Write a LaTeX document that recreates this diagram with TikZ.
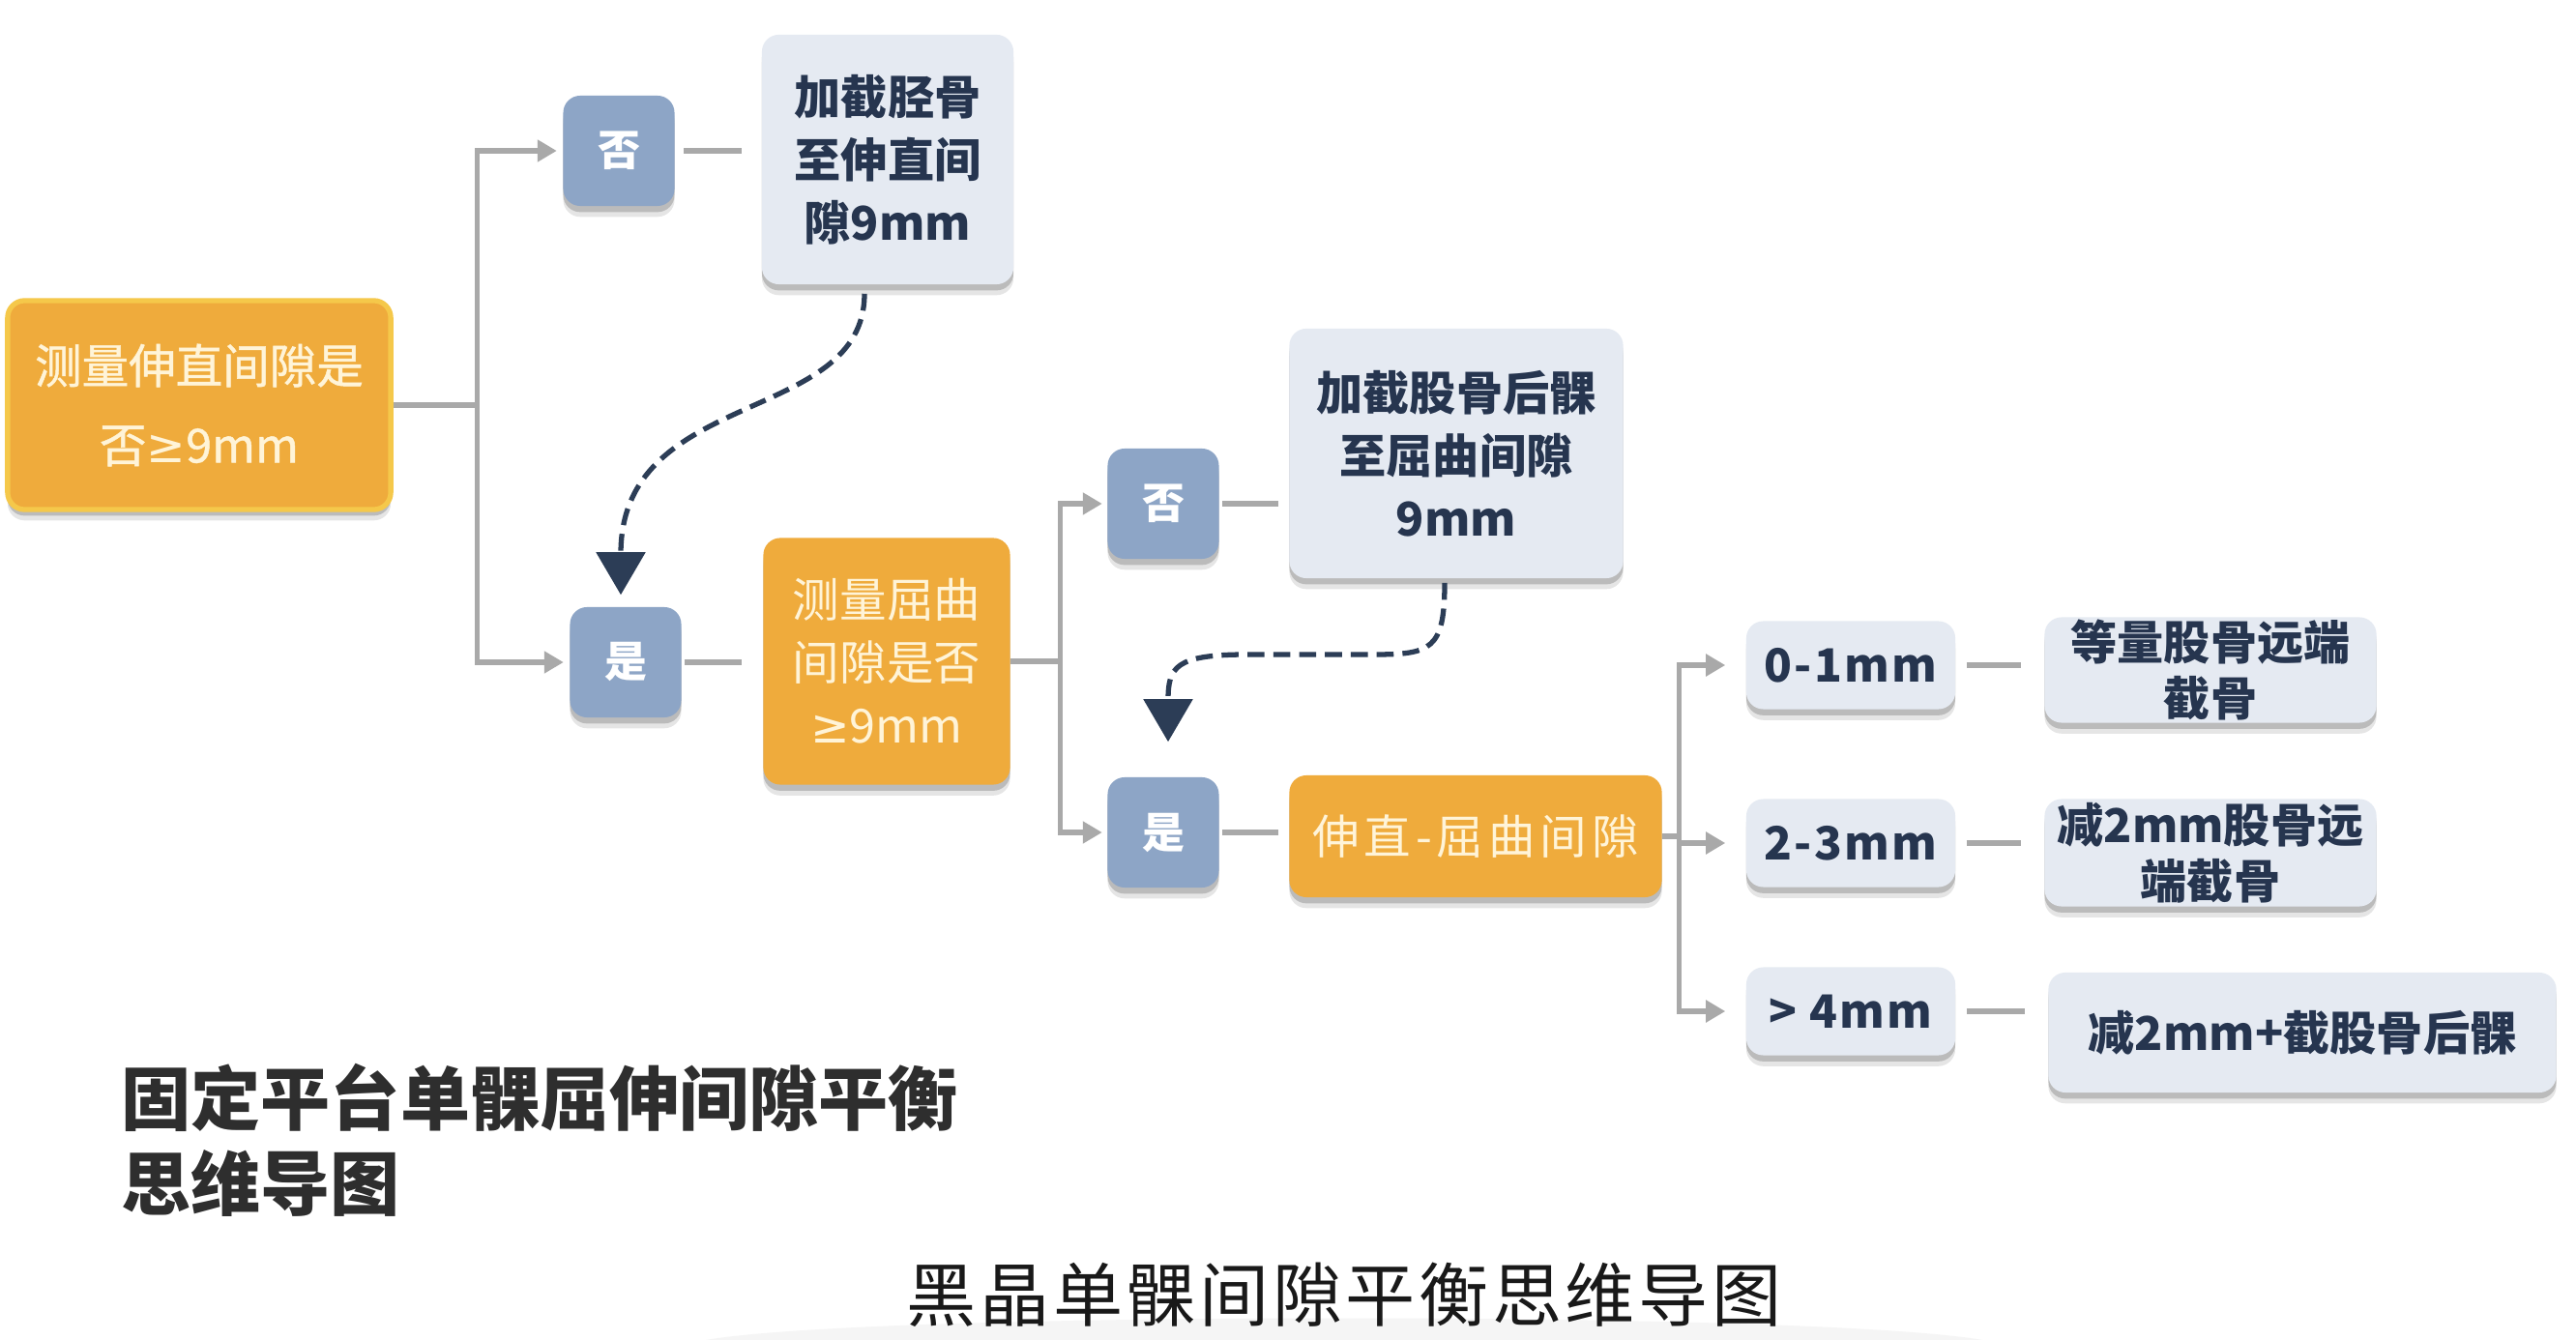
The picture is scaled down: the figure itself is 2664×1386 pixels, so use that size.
\documentclass[tikz,border=0pt]{standalone}
\usepackage{fontspec}
\setmainfont{Noto Sans CJK SC}
\newfontfamily\symf{DejaVu Sans}
\usetikzlibrary{arrows.meta,shadows}
\definecolor{orng}{HTML}{EFAB3C}
\definecolor{orngb}{HTML}{F5C84A}
\definecolor{bluebox}{HTML}{8DA5C6}
\definecolor{lightbox}{HTML}{E5EAF2}
\definecolor{navy}{HTML}{26354F}
\definecolor{connc}{HTML}{A9A9A9}
\definecolor{dashc}{HTML}{2C3D56}
\definecolor{cream}{HTML}{FFF4D8}
\newcommand{\geqs}{{\symf ≥}}
\begin{document}
\begin{tikzpicture}[x=0.01cm,y=-0.01cm,
  boxbase/.style={rectangle, rounded corners=5pt, inner sep=0pt, align=center,
    drop shadow={shadow xshift=0pt, shadow yshift=-3.2pt, opacity=0.10, fill=black},
    drop shadow={shadow xshift=0pt, shadow yshift=-1.8pt, opacity=0.18, fill=black}},
  orangebox/.style={boxbase, fill=orng, text=cream},
  bluebx/.style={boxbase, fill=bluebox, text=white, minimum width=1.15cm, minimum height=1.14cm,
    font=\bfseries\fontsize{12.5}{15}\selectfont},
  lightbx/.style={boxbase, fill=lightbox, text=navy, font=\bfseries\fontsize{13.7}{18.5}\selectfont},
  gapbx/.style={lightbx, minimum width=2.16cm, minimum height=0.91cm,
    font=\bfseries\fontsize{13.5}{16}\selectfont\addfontfeatures{LetterSpace=5}},
  resbx/.style={lightbx, font=\bfseries\fontsize{13.7}{16.5}\selectfont},
  connline/.style={draw=connc, line width=1.5pt},
  connarrow/.style={connline, -{Triangle[length=0.2cm,width=0.22cm]}},
  dashline/.style={draw=dashc, line width=1.5pt, dash pattern=on 5pt off 2.6pt,
    -{Triangle[length=0.44cm,width=0.5cm]}}
]
\useasboundingbox (0,0) rectangle (2664,1386);
\fill[white] (0,0) rectangle (2664,1386);
\fill[black!4] (730,1386) .. controls (900,1356) and (1880,1356) .. (2050,1386) -- cycle;

% nodes
\node[orangebox, draw=orngb, line width=1.5pt, minimum width=3.96cm, minimum height=2.16cm,
  font=\fontsize{13.8}{23.3}\selectfont\addfontfeatures{FakeBold=1}] (main) at (206,419) {测量伸直间隙是\\否\geqs9mm};
\node[bluebx] (no1) at (640,156) {否};
\node[lightbx, minimum width=2.6cm, minimum height=2.58cm] (r1) at (918,165) {加截胫骨\\至伸直间\\隙9mm};
\node[bluebx] (yes1) at (647,685) {是};
\node[orangebox, minimum width=2.55cm, minimum height=2.55cm,
  font=\fontsize{13.8}{18.5}\selectfont] (q2) at (917,684) {测量屈曲\\间隙是否\\\geqs9mm};
\node[bluebx] (no2) at (1203,521) {否};
\node[lightbx, minimum width=3.45cm, minimum height=2.58cm] (r2) at (1506,469) {加截股骨后髁\\至屈曲间隙\\9mm};
\node[bluebx] (yes2) at (1203,861) {是};
\node[orangebox, minimum width=3.85cm, minimum height=1.26cm,
  font=\fontsize{13.8}{16}\selectfont\addfontfeatures{LetterSpace=10}] (diff) at (1526,865) {伸直-屈曲间隙};
\node[gapbx] (g1) at (1914,688) {0-1mm};
\node[gapbx] (g2) at (1914,872) {2-3mm};
\node[gapbx] (g3) at (1914,1046) {> 4mm};
\node[resbx, minimum width=3.43cm, minimum height=1.09cm] (a1) at (2286,693) {等量股骨远端\\截骨};
\node[resbx, minimum width=3.43cm, minimum height=1.11cm] (a2) at (2286,882) {减2mm股骨远\\端截骨};
\node[resbx, minimum width=5.25cm, minimum height=1.24cm] (a3) at (2381,1068) {减2mm+截股骨后髁};

\node[anchor=west, align=left, inner sep=0pt, text=black!82,
  font=\bfseries\fontsize{20.5}{25}\selectfont] (title) at (125,1179) {固定平台单髁屈伸间隙平衡\\思维导图};
\node[inner sep=0pt, text=black!90,
  font=\fontsize{20.5}{25}\selectfont\addfontfeatures{LetterSpace=5}] (sub) at (1390,1339) {黑晶单髁间隙平衡思维导图};

% connectors level 1
\coordinate (j1) at ([xshift=0.87cm]main.east);
\draw[connline] (main.east) -- (j1);
\draw[connarrow, shorten >=0.06cm] (j1) |- (no1.west);
\draw[connarrow, shorten >=0.06cm] (j1) |- (yes1.west);
\draw[connline, shorten <=0.09cm, shorten >=0.2cm] (no1.east) -- (no1.east -| r1.west);
\draw[connline, shorten <=0.03cm, shorten >=0.22cm] (yes1.east) -- (yes1.east -| q2.west);

% level 2
\coordinate (j2) at ([xshift=0.51cm]q2.east);
\draw[connline] (q2.east) -- (j2);
\draw[connarrow, shorten >=0.05cm] (j2) |- (no2.west);
\draw[connarrow, shorten >=0.05cm] (j2) |- (yes2.west);
\draw[connline, shorten <=0.03cm, shorten >=0.11cm] (no2.east) -- (no2.east -| r2.west);
\draw[connline, shorten <=0.03cm, shorten >=0.11cm] (yes2.east) -- (yes2.east -| diff.west);

% level 3
\coordinate (j3) at ([xshift=0.17cm]diff.east);
\draw[connline] (diff.east) -- (j3);
\draw[connarrow, shorten >=0.21cm] (j3) |- (g1.west);
\draw[connarrow, shorten >=0.21cm] (j3) |- (g2.west);
\draw[connarrow, shorten >=0.21cm] (j3) |- (g3.west);
\draw[connline, shorten <=0.11cm, shorten >=0.24cm] (g1.east) -- (g1.east -| a1.west);
\draw[connline, shorten <=0.11cm, shorten >=0.24cm] (g2.east) -- (g2.east -| a2.west);
\draw[connline, shorten <=0.11cm, shorten >=0.24cm] (g3.east) -- (g3.east -| a3.west);

% dashed feedback arrows
\coordinate (s1) at ([xshift=-0.24cm,yshift=-0.09cm]r1.south);
\coordinate (t1) at ([xshift=-0.05cm,yshift=0.12cm]yes1.north);
\draw[dashline] (s1) .. controls (894,440) and (642,400) .. (t1);
\coordinate (s2) at ([xshift=-0.12cm,yshift=-0.04cm]r2.south);
\coordinate (t2) at ([xshift=0.05cm,yshift=0.36cm]yes2.north);
\draw[dashline] (s2) .. controls (1494,672) and (1480,677) .. (1420,677) -- (1290,677)
  .. controls (1215,677) and (1208,690) .. (t2);
\end{tikzpicture}
\end{document}
